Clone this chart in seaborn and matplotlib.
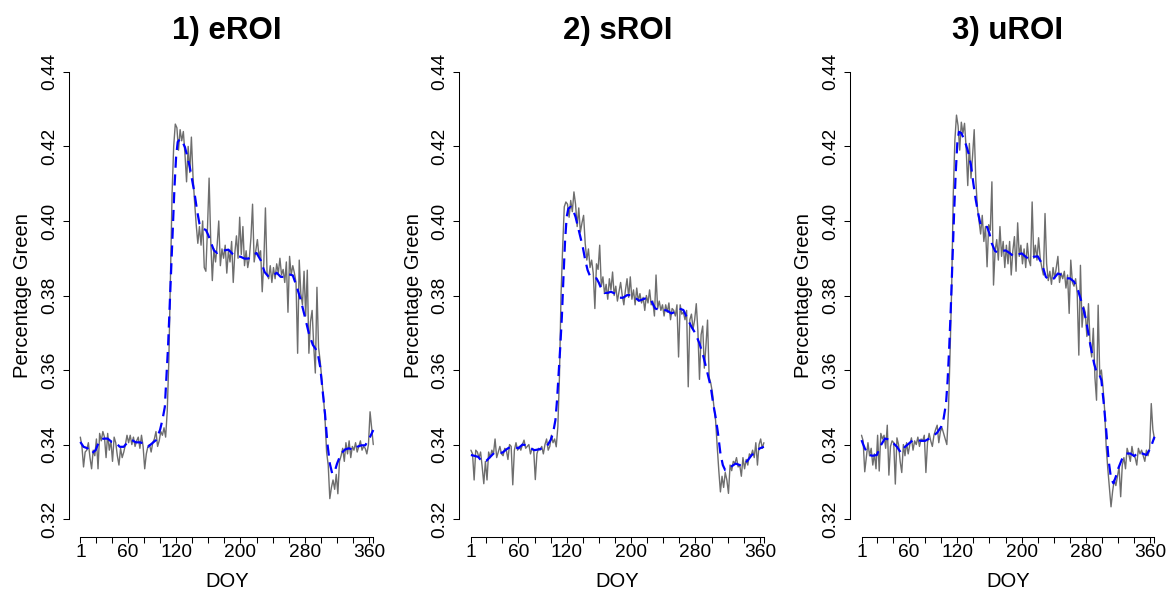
import matplotlib
matplotlib.use("Agg")
import matplotlib.pyplot as plt
import seaborn as sns

sns.set_style("ticks")
plt.rcParams["font.family"] = ["Liberation Sans", "DejaVu Sans"]
plt.rcParams["text.color"] = "black"
plt.rcParams["axes.labelcolor"] = "black"

TITLES = ["1) eROI", "2) sROI", "3) uROI"]

# Daily greenness index, sampled every second day of year
DAILY_DOY = list(range(1, 366, 2))

eroi_raw = [
    0.342, 0.3395, 0.334, 0.338, 0.3385, 0.3405, 0.3365, 0.3335, 0.3385, 0.337,
    0.3415, 0.3335, 0.343, 0.341, 0.3435, 0.342, 0.3365, 0.343, 0.3385, 0.341,
    0.3355, 0.342, 0.3405, 0.337, 0.3345, 0.339, 0.3365, 0.338, 0.340, 0.3425,
    0.3405, 0.3425, 0.340, 0.342, 0.3395, 0.341, 0.342, 0.339, 0.3425, 0.3395,
    0.3335, 0.3375, 0.3395, 0.340, 0.338, 0.3405, 0.3415, 0.3435, 0.3395, 0.341,
    0.3435, 0.3425, 0.3445, 0.342, 0.349, 0.3627, 0.385, 0.4073, 0.420, 0.426,
    0.425, 0.419, 0.4245, 0.4215, 0.424, 0.418, 0.4105, 0.420, 0.413, 0.4225,
    0.412, 0.405, 0.399, 0.394, 0.3985, 0.3935, 0.400, 0.3875, 0.3865, 0.398,
    0.4115, 0.395, 0.384, 0.3925, 0.389, 0.3935, 0.400, 0.388, 0.3925, 0.390,
    0.3935, 0.386, 0.392, 0.389, 0.3945, 0.3835, 0.3915, 0.396, 0.390, 0.401,
    0.391, 0.3985, 0.388, 0.392, 0.3875, 0.390, 0.3955, 0.4045, 0.389, 0.392,
    0.395, 0.3905, 0.392, 0.381, 0.389, 0.4035, 0.386, 0.3845, 0.388, 0.3835,
    0.3875, 0.3845, 0.3885, 0.386, 0.390, 0.3855, 0.387, 0.3835, 0.389, 0.3755,
    0.3905, 0.3855, 0.388, 0.386, 0.3835, 0.3645, 0.3895, 0.3805, 0.3775, 0.3865,
    0.3745, 0.3868, 0.3645, 0.373, 0.376, 0.3665, 0.3592, 0.3822, 0.366, 0.3625,
    0.3575, 0.353, 0.347, 0.338, 0.3345, 0.3255, 0.3285, 0.3305, 0.328, 0.332,
    0.3268, 0.3355, 0.337, 0.339, 0.3355, 0.3405, 0.3375, 0.341, 0.3365, 0.3395,
    0.3385, 0.3405, 0.338, 0.3395, 0.341, 0.3385, 0.3395, 0.339, 0.3375, 0.340,
    0.3488, 0.3445, 0.340,
]

sroi_raw = [
    0.3385, 0.3375, 0.3305, 0.3385, 0.338, 0.3365, 0.338, 0.334, 0.3295, 0.3355,
    0.3305, 0.338, 0.3365, 0.3385, 0.3375, 0.3415, 0.3365, 0.338, 0.3395, 0.3375,
    0.337, 0.339, 0.3385, 0.336, 0.340, 0.3395, 0.3292, 0.3385, 0.3405, 0.3385,
    0.3395, 0.3385, 0.340, 0.3412, 0.339, 0.3395, 0.340, 0.3375, 0.339, 0.3385,
    0.3306, 0.3375, 0.339, 0.3385, 0.3395, 0.3375, 0.340, 0.3415, 0.3385, 0.3395,
    0.3425, 0.3405, 0.3415, 0.3394, 0.3448, 0.3582, 0.3805, 0.393, 0.4038, 0.4051,
    0.4045, 0.401, 0.4055, 0.4025, 0.4078, 0.4045, 0.3985, 0.4035, 0.397, 0.3995,
    0.4015, 0.394, 0.3895, 0.3925, 0.3875, 0.3895, 0.386, 0.3765, 0.3885, 0.387,
    0.3935, 0.3825, 0.385, 0.3805, 0.383, 0.379, 0.3845, 0.3815, 0.3863, 0.380,
    0.3825, 0.3785, 0.381, 0.3835, 0.380, 0.3775, 0.3815, 0.3845, 0.3795, 0.385,
    0.379, 0.3815, 0.3775, 0.382, 0.3785, 0.3805, 0.378, 0.3795, 0.376, 0.380,
    0.378, 0.3815, 0.3775, 0.3785, 0.3745, 0.3855, 0.3765, 0.3785, 0.376, 0.3775,
    0.3745, 0.3775, 0.3755, 0.378, 0.3735, 0.3765, 0.376, 0.3745, 0.3775, 0.3635,
    0.3775, 0.375, 0.3755, 0.3735, 0.376, 0.3555, 0.3735, 0.375, 0.371, 0.3735,
    0.3778, 0.3705, 0.3575, 0.3695, 0.3718, 0.3605, 0.3665, 0.3734, 0.358, 0.3565,
    0.354, 0.350, 0.3465, 0.3395, 0.333, 0.3273, 0.3315, 0.3285, 0.3325, 0.3305,
    0.3269, 0.3345, 0.333, 0.3355, 0.335, 0.3365, 0.334, 0.3345, 0.3315, 0.3365,
    0.3335, 0.336, 0.3345, 0.3375, 0.337, 0.3385, 0.3365, 0.3405, 0.3345, 0.340,
    0.3415, 0.339, 0.3405,
]

uroi_raw = [
    0.3425, 0.341, 0.3327, 0.3365, 0.3405, 0.337, 0.339, 0.3345, 0.3375, 0.3335,
    0.3425, 0.3329, 0.343, 0.3415, 0.3425, 0.339, 0.3452, 0.3318, 0.3395, 0.341,
    0.3405, 0.3294, 0.3418, 0.340, 0.3355, 0.3325, 0.340, 0.337, 0.3405, 0.3375,
    0.340, 0.3418, 0.3385, 0.341, 0.340, 0.342, 0.3395, 0.3415, 0.341, 0.3425,
    0.3325, 0.3405, 0.343, 0.341, 0.3395, 0.3425, 0.344, 0.3452, 0.3405, 0.3435,
    0.3445, 0.343, 0.3415, 0.340, 0.349, 0.3644, 0.382, 0.4073, 0.4217, 0.4284,
    0.4255, 0.419, 0.4265, 0.4235, 0.4262, 0.4195, 0.4095, 0.4208, 0.4115, 0.4175,
    0.4245, 0.411, 0.4035, 0.400, 0.3965, 0.4015, 0.3945, 0.3985, 0.3877, 0.399,
    0.3975, 0.4105, 0.3828, 0.392, 0.395, 0.3895, 0.3985, 0.3905, 0.3945, 0.3875,
    0.3935, 0.3885, 0.3945, 0.3855, 0.392, 0.3958, 0.3865, 0.3995, 0.3905, 0.3935,
    0.3885, 0.3925, 0.3875, 0.394, 0.3895, 0.388, 0.4051, 0.390, 0.3935, 0.3895,
    0.3955, 0.390, 0.3875, 0.3855, 0.402, 0.3885, 0.384, 0.3865, 0.383, 0.3875,
    0.3845, 0.3875, 0.3905, 0.3835, 0.386, 0.3845, 0.3865, 0.382, 0.3855, 0.3752,
    0.3895, 0.3835, 0.3825, 0.3845, 0.3805, 0.364, 0.3881, 0.3715, 0.377, 0.3755,
    0.369, 0.3778, 0.367, 0.3635, 0.3712, 0.358, 0.3519, 0.3774, 0.3585, 0.360,
    0.3555, 0.3495, 0.3395, 0.3335, 0.3285, 0.3233, 0.3275, 0.3305, 0.329, 0.3315,
    0.334, 0.326, 0.3345, 0.3365, 0.3335, 0.339, 0.3375, 0.3355, 0.3395, 0.337,
    0.3365, 0.3345, 0.339, 0.3375, 0.3385, 0.337, 0.3355, 0.3385, 0.337, 0.339,
    0.351, 0.344, 0.3415,
]

# Smoothed seasonal curve
SMOOTH_DOY = [
    1, 5, 10, 15, 20, 25, 30, 35, 40, 45,
    50, 55, 60, 65, 70, 75, 80, 85, 90, 95,
    100, 103, 106, 108, 110, 112, 114, 116, 118, 120,
    122, 125, 128, 131, 134, 137, 140, 143, 146, 149,
    153, 157, 160, 163, 167, 171, 175, 180, 185, 190,
    195, 200, 205, 210, 215, 220, 225, 230, 235, 240,
    245, 250, 255, 260, 265, 270, 275, 280, 285, 290,
    293, 296, 299, 302, 305, 308, 311, 314, 317, 320,
    325, 330, 335, 340, 345, 350, 355, 360, 365,
]

eroi_smooth = [
    0.3407, 0.3394, 0.3390, 0.3376, 0.3385, 0.3412, 0.3416, 0.3416, 0.3407, 0.3405,
    0.3394, 0.3394, 0.3407, 0.3412, 0.3406, 0.3406, 0.3403, 0.3394, 0.3403, 0.3412,
    0.3439, 0.3466, 0.3501, 0.3582, 0.3662, 0.3770, 0.3877, 0.3984, 0.4091, 0.4172,
    0.4212, 0.4220, 0.4212, 0.4198, 0.4172, 0.4145, 0.4109, 0.4073, 0.4029, 0.3993,
    0.3979, 0.3976, 0.3962, 0.3944, 0.3921, 0.3914, 0.3917, 0.3921, 0.3923, 0.3912,
    0.3905, 0.3904, 0.3899, 0.3899, 0.3908, 0.3914, 0.3895, 0.3863, 0.3850, 0.3852,
    0.3861, 0.3850, 0.3850, 0.3857, 0.3854, 0.3823, 0.3787, 0.3743, 0.3698, 0.3667,
    0.3658, 0.3645, 0.3609, 0.3546, 0.3483, 0.3403, 0.3349, 0.3322, 0.3327, 0.3349,
    0.3376, 0.3387, 0.3390, 0.3385, 0.3394, 0.3398, 0.3398, 0.3416, 0.3439,
]

sroi_smooth = [
    0.3372, 0.3370, 0.3367, 0.3354, 0.3356, 0.3367, 0.3378, 0.3379, 0.3378, 0.3387,
    0.3394, 0.3394, 0.3390, 0.3400, 0.3398, 0.3390, 0.3385, 0.3387, 0.3390, 0.3394,
    0.3412, 0.3430, 0.3466, 0.3519, 0.3591, 0.3662, 0.3743, 0.3850, 0.3948, 0.4011,
    0.4033, 0.4038, 0.4029, 0.4011, 0.3984, 0.3957, 0.3930, 0.3895, 0.3868, 0.3852,
    0.3848, 0.3846, 0.3834, 0.3818, 0.3807, 0.3807, 0.3810, 0.3805, 0.3794, 0.3794,
    0.3801, 0.3801, 0.3794, 0.3786, 0.3790, 0.3794, 0.3786, 0.3765, 0.3762, 0.3762,
    0.3759, 0.3752, 0.3756, 0.3765, 0.3761, 0.3738, 0.3716, 0.3698, 0.3671, 0.3635,
    0.3609, 0.3582, 0.3555, 0.3510, 0.3474, 0.3430, 0.3376, 0.3345, 0.3331, 0.3333,
    0.3342, 0.3349, 0.3345, 0.3345, 0.3358, 0.3372, 0.3380, 0.3390, 0.3394,
]

uroi_smooth = [
    0.3412, 0.3390, 0.3372, 0.3370, 0.3372, 0.3398, 0.3416, 0.3414, 0.3405, 0.3394,
    0.3378, 0.3394, 0.3403, 0.3412, 0.3412, 0.3410, 0.3410, 0.3416, 0.3423, 0.3432,
    0.3448, 0.3470, 0.3510, 0.3573, 0.3662, 0.3770, 0.3895, 0.4020, 0.4127, 0.4208,
    0.4239, 0.4236, 0.4221, 0.4203, 0.4181, 0.4150, 0.4100, 0.4056, 0.4020, 0.3989,
    0.3984, 0.3984, 0.3966, 0.3939, 0.3919, 0.3915, 0.3919, 0.3921, 0.3914, 0.3905,
    0.3910, 0.3913, 0.3904, 0.3896, 0.3904, 0.3905, 0.3886, 0.3850, 0.3841, 0.3846,
    0.3859, 0.3855, 0.3846, 0.3846, 0.3837, 0.3814, 0.3778, 0.3734, 0.3671, 0.3617,
    0.3595, 0.3591, 0.3573, 0.3510, 0.3439, 0.3358, 0.3309, 0.3296, 0.3314, 0.3336,
    0.3363, 0.3376, 0.3376, 0.3369, 0.3380, 0.3376, 0.3372, 0.3390, 0.3421,
]

RAW = [eroi_raw, sroi_raw, uroi_raw]
SMOOTH = [eroi_smooth, sroi_smooth, uroi_smooth]

X_TICKS = [1, 20, 40, 60, 80, 100, 120, 140, 160, 180, 200, 220, 240, 260,
           280, 300, 320, 340, 360, 365]
X_LABELED = [1, 60, 120, 200, 280, 360]
Y_TICKS = [0.32, 0.34, 0.36, 0.38, 0.40, 0.42, 0.44]

W, H = 1172, 589
fig = plt.figure(figsize=(W / 100, H / 100), dpi=100)

for i in range(3):
    left = (68.6 + i * 390.6) / W
    ax = fig.add_axes([left, 1 - 537 / H, 316.4 / W, (537 - 54) / H])

    sns.lineplot(x=DAILY_DOY, y=RAW[i], color="#6e6e6e", linewidth=1.0, ax=ax)
    sns.lineplot(x=SMOOTH_DOY, y=SMOOTH[i], color="#0000ff", linewidth=1.6,
                 linestyle=(0, (5, 3)), ax=ax)

    ax.set_xlim(-13.56, 379.56)
    ax.set_ylim(0.3152, 0.4448)

    ax.set_xticks(X_TICKS)
    ax.set_xticklabels([str(t) if t in X_LABELED else "" for t in X_TICKS])
    ax.set_yticks(Y_TICKS)
    ax.set_yticklabels([f"{v:.2f}" for v in Y_TICKS], rotation=90, va="center")

    ax.tick_params(axis="both", direction="out", length=4.3, width=0.75,
                   color="black", labelsize=13.8, labelcolor="black")
    ax.tick_params(axis="x", pad=0.8)
    ax.tick_params(axis="y", pad=3.4)

    for side in ("top", "right"):
        ax.spines[side].set_visible(False)
    ax.spines["left"].set_bounds(0.32, 0.44)
    ax.spines["bottom"].set_bounds(1, 365)
    for side in ("left", "bottom"):
        ax.spines[side].set_linewidth(0.75)
        ax.spines[side].set_color("black")

    ax.set_xlabel("DOY", fontsize=14.5, color="black")
    ax.xaxis.label.set_verticalalignment("baseline")
    ax.xaxis.set_label_coords(0.5, (537 - 587) / 483)

    ax.set_ylabel("Percentage Green", fontsize=14.5, color="black")
    ax.yaxis.label.set_verticalalignment("baseline")
    ax.yaxis.label.set_rotation_mode("anchor")
    ax.yaxis.set_label_coords((28 - 68.6) / 316.4, 0.5)

    ax.set_title(TITLES[i], fontsize=22.5, fontweight="bold", pad=10.8,
                 color="black")

fig.savefig("out.png", dpi=100)
